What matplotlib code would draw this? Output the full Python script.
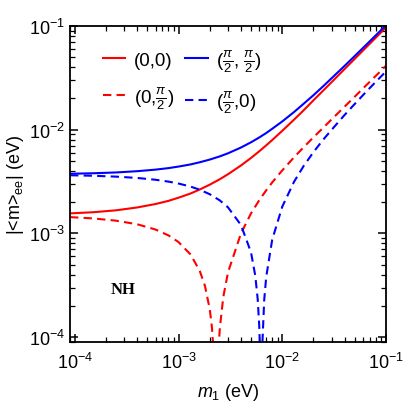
import matplotlib
matplotlib.use("Agg")
import matplotlib.pyplot as plt
from matplotlib.ticker import LogLocator, NullFormatter

plt.rcParams['font.family'] = ['Liberation Sans', 'DejaVu Sans']
plt.rcParams['mathtext.fontset'] = 'custom'
plt.rcParams['mathtext.rm'] = 'Liberation Sans'
plt.rcParams['mathtext.it'] = 'Liberation Sans:italic'
plt.rcParams['mathtext.bf'] = 'Liberation Sans:bold'

# lightest neutrino mass m1 (eV)
m1 = [9e-5, 1.5e-4, 2.5e-4, 4e-4, 6e-4, 8e-4, 1e-3, 1.3e-3, 1.6e-3, 2e-3,
      2.5e-3, 3e-3, 4e-3, 5e-3, 6e-3, 7e-3, 8e-3, 1e-2, 1.3e-2, 1.6e-2,
      2e-2, 2.5e-2, 3e-2, 4e-2, 5e-2, 6.5e-2, 8e-2, 1e-1]

# solid curves |<m>ee| (eV)
mee_00 = [0.00156, 0.00160, 0.00167, 0.00178, 0.00192, 0.00206, 0.00221, 0.00242,
          0.00265, 0.00295, 0.00333, 0.00372, 0.00452, 0.00534, 0.00619, 0.00706,
          0.00794, 0.00975, 0.0125, 0.0153, 0.0192, 0.0240, 0.0288, 0.0385,
          0.0482, 0.0627, 0.0773, 0.0967]
mee_pp = [0.00376, 0.00380, 0.00387, 0.00398, 0.00412, 0.00426, 0.00441, 0.00462,
          0.00485, 0.00515, 0.00553, 0.00592, 0.00673, 0.00756, 0.00841, 0.00928,
          0.0102, 0.0120, 0.0148, 0.0177, 0.0215, 0.0264, 0.0314, 0.0413,
          0.0513, 0.0663, 0.0814, 0.1016]

# dashed curves, these dip to zero so they get their own m1 points
m1_0p = [9e-5, 1.5e-4, 2.5e-4, 4e-4, 6e-4, 8e-4, 1e-3, 1.3e-3, 1.6e-3, 1.8e-3,
         2e-3, 2.1e-3, 2.2e-3, 2.25e-3, 2.35e-3, 2.4e-3, 2.5e-3, 2.7e-3, 3e-3,
         4e-3, 5e-3, 6e-3, 7e-3, 8e-3, 1e-2, 1.3e-2, 1.6e-2, 2e-2, 2.5e-2,
         3e-2, 4e-2, 5e-2, 6.5e-2, 8e-2, 1e-1]
mee_0p = [0.001436, 0.001395, 0.001327, 0.001225, 0.001090, 0.000957, 0.000825,
          0.000630, 0.000437, 0.000311, 0.000186, 0.000124, 0.000062, 0.000031,
          0.000031, 0.000061, 0.000122, 0.000243, 0.000422, 0.00100, 0.00156,
          0.00209, 0.00260, 0.00310, 0.00405, 0.00542, 0.00674, 0.00845,
          0.0105, 0.0126, 0.0167, 0.0208, 0.0270, 0.0331, 0.0413]

m1_p0 = [9e-5, 1.5e-4, 2.5e-4, 4e-4, 6e-4, 8e-4, 1e-3, 1.3e-3, 1.6e-3, 2e-3,
         2.5e-3, 3e-3, 4e-3, 5e-3, 5.5e-3, 5.8e-3, 6e-3, 6.1e-3, 6.2e-3, 6.3e-3,
         6.4e-3, 6.7e-3, 7e-3, 8e-3, 1e-2, 1.3e-2, 1.6e-2, 2e-2, 2.5e-2,
         3e-2, 4e-2, 5e-2, 6.5e-2, 8e-2, 1e-1]
mee_p0 = [0.003636, 0.003595, 0.003527, 0.003425, 0.003290, 0.003157, 0.003026,
          0.002831, 0.002639, 0.002387, 0.002081, 0.001782, 0.001205, 0.000656,
          0.000389, 0.000232, 0.000129, 0.000077, 0.0000256, 0.0000255,
          0.0000765, 0.000228, 0.000379, 0.000869, 0.00181, 0.00315, 0.00443,
          0.00608, 0.00808, 0.0100, 0.0139, 0.0177, 0.0234, 0.0290, 0.0364]

fig = plt.figure(figsize=(4.05, 4.02), dpi=100)
ax = fig.add_axes([0.173, 0.147, 0.780, 0.786])

ax.plot(m1, mee_00, color='#ff0000', lw=1.5, label='(0,0)')
ax.plot(m1_0p, mee_0p, color='#ff0000', lw=1.5, ls=(0, (4, 2.5)),
        label=r'(0,$\frac{\pi}{2}$)')
ax.plot(m1, mee_pp, color='#0000ff', lw=1.5,
        label=r'($\frac{\pi}{2}$, $\frac{\pi}{2}$)')
ax.plot(m1_p0, mee_p0, color='#0000ff', lw=1.5, ls=(0, (4, 2.5)),
        label=r'($\frac{\pi}{2}$,0)')

ax.set_xscale('log')
ax.set_yscale('log')
ax.set_xlim(9e-5, 0.1)
ax.set_ylim(9e-5, 0.1)

for a in (ax.xaxis, ax.yaxis):
    a.set_major_locator(LogLocator(base=10, numticks=10))
    a.set_minor_locator(LogLocator(base=10, subs=range(2, 10), numticks=20))
    a.set_minor_formatter(NullFormatter())

ax.tick_params(which='both', direction='in', top=True, right=True, labelsize=13)
ax.tick_params(axis='x', which='major', pad=7)
ax.tick_params(which='major', length=6, width=1.1)
ax.tick_params(which='minor', length=3.5, width=0.9)
for s in ax.spines.values():
    s.set_linewidth(1.3)

ax.set_xlabel(r'$m_1$ (eV)', fontsize=13, labelpad=6.5)
ax.set_ylabel(r'|<m>$_{\rm ee}$| (eV)', fontsize=13, labelpad=2)

ax.text(2.9e-4, 2.9e-4, 'NH', family='Liberation Serif', weight='bold',
        fontsize=12, ha='center', va='center')

ax.legend(ncol=2, loc='upper left', bbox_to_anchor=(0.05, 0.985), frameon=False,
          fontsize=13.5, handlelength=1.2, handletextpad=0.45, columnspacing=0.6,
          labelspacing=0.85)

fig.savefig('out.png', dpi=100)
